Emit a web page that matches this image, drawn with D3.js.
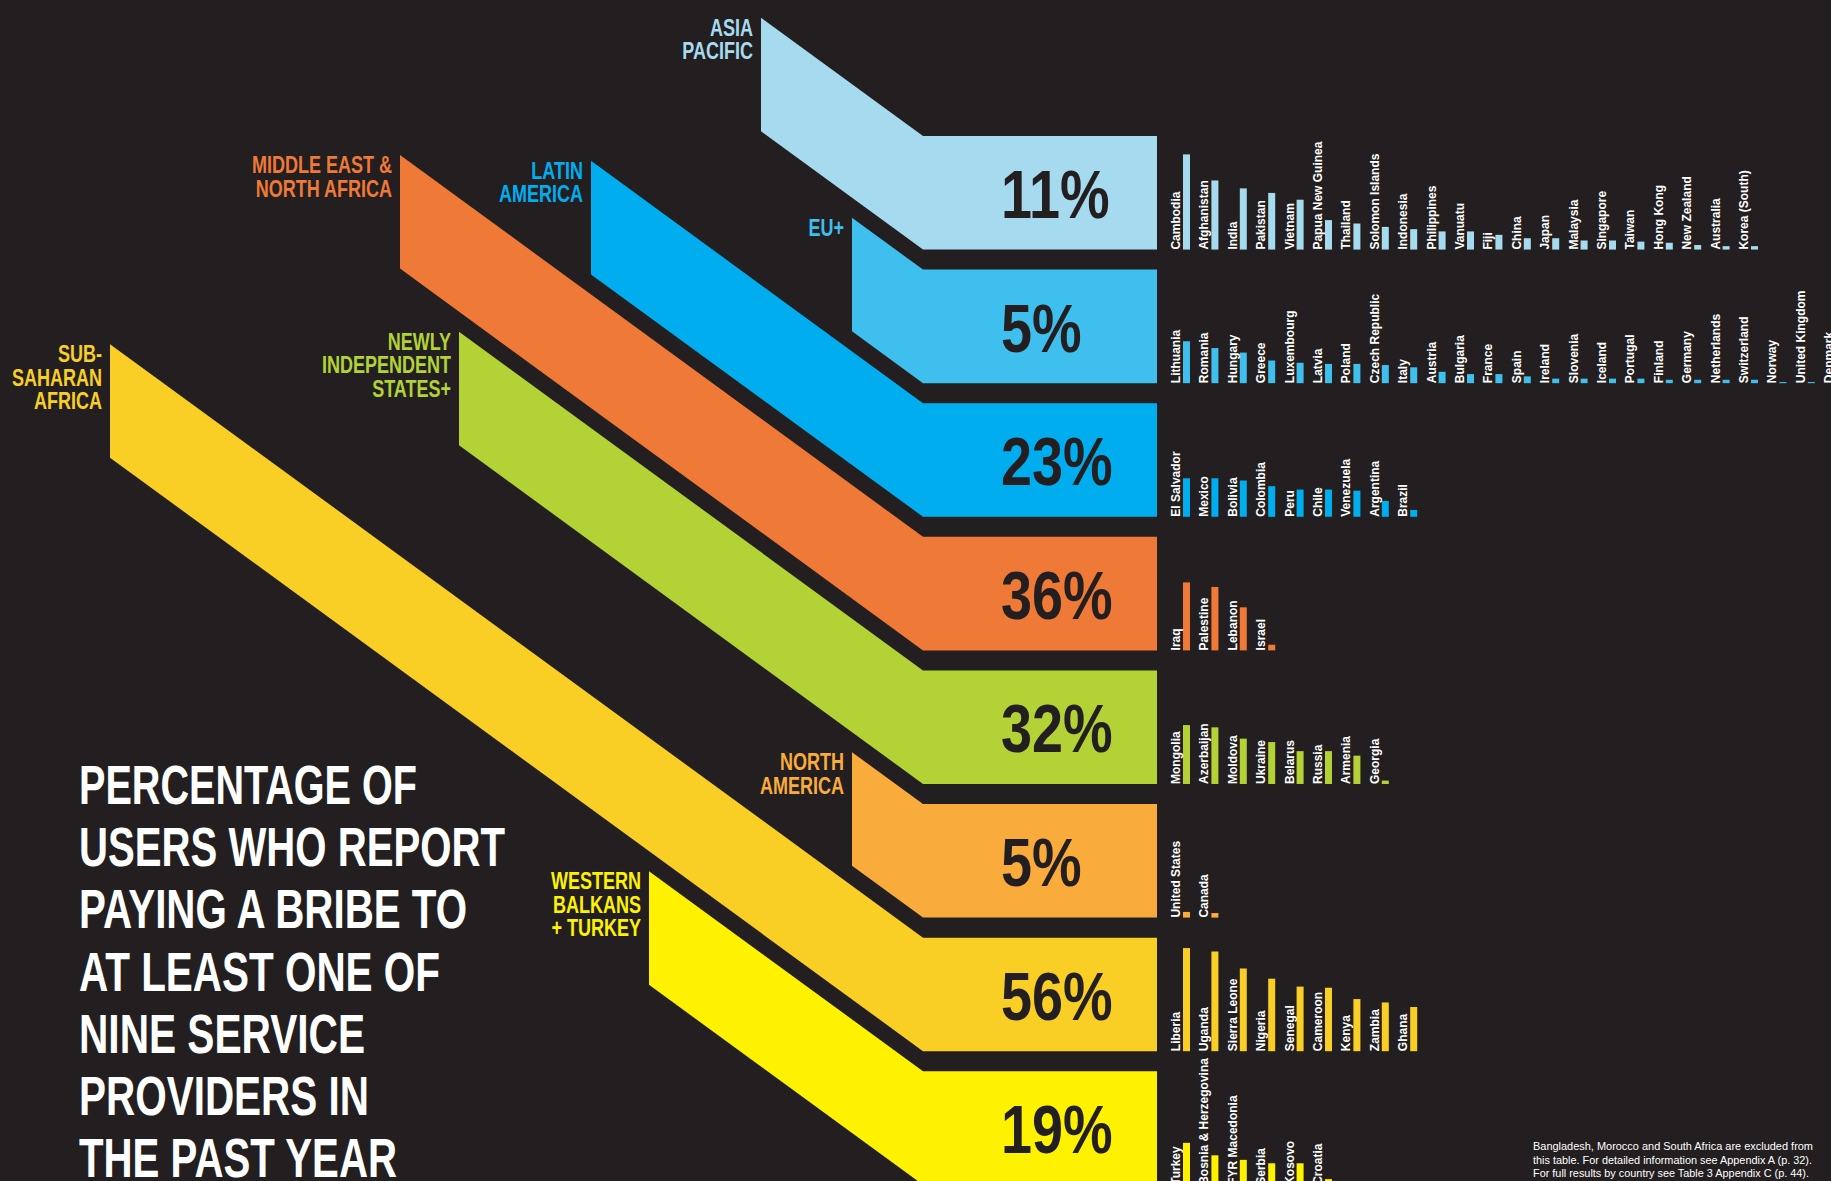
<!DOCTYPE html>
<html><head><meta charset="utf-8">
<script src="https://cdn.jsdelivr.net/npm/d3@7"></script>
<style>
html,body{margin:0;padding:0;background:#231f20;overflow:hidden}
svg{display:block}
text{font-family:"Liberation Sans",Arial,Helvetica,sans-serif;font-weight:bold}
</style></head><body>
<svg id="chart" width="1831" height="1181"></svg>
<script>
// ---------- DATA ----------
const regions = ["Asia Pacific","EU+","Latin America","Middle East & North Africa","Newly Independent States+","North America","Sub-Saharan Africa","Western Balkans + Turkey"];
const regionLabels = [["ASIA","PACIFIC"],["EU+"],["LATIN","AMERICA"],["MIDDLE EAST &","NORTH AFRICA"],["NEWLY","INDEPENDENT","STATES+"],["NORTH","AMERICA"],["SUB-","SAHARAN","AFRICA"],["WESTERN","BALKANS","+ TURKEY"]];
const regionValues = [11,5,23,36,32,5,56,19];

const asiaCountries = ["Cambodia","Afghanistan","India","Pakistan","Vietnam","Papua New Guinea","Thailand","Solomon Islands","Indonesia","Philippines","Vanuatu","Fiji","China","Japan","Malaysia","Singapore","Taiwan","Hong Kong","New Zealand","Australia","Korea (South)"];
const asiaValues = [84,61,54,50,44,26,23,20,18,16,16,13,10,10,8,8,7,6,4,3,3];
const euCountries = ["Lithuania","Romania","Hungary","Greece","Luxembourg","Latvia","Poland","Czech Republic","Italy","Austria","Bulgaria","France","Spain","Ireland","Slovenia","Iceland","Portugal","Finland","Germany","Netherlands","Switzerland","Norway","United Kingdom","Denmark"];
const euValues = [37,31,27,20,18,17,17,16,14,10,8,8,6,4,4,4,4,3,3,3,3,1,1,1];
const latamCountries = ["El Salvador","Mexico","Bolivia","Colombia","Peru","Chile","Venezuela","Argentina","Brazil"];
const latamValues = [34,34,32,27,24,24,23,14,6];
const menaCountries = ["Iraq","Palestine","Lebanon","Israel"];
const menaValues = [60,56,38,5];
const nisCountries = ["Mongolia","Azerbaijan","Moldova","Ukraine","Belarus","Russia","Armenia","Georgia"];
const nisValues = [52,50,40,37,29,29,25,3];
const naCountries = ["United States","Canada"];
const naValues = [5,4];
const ssaCountries = ["Liberia","Uganda","Sierra Leone","Nigeria","Senegal","Cameroon","Kenya","Zambia","Ghana"];
const ssaValues = [91,88,73,64,57,56,46,43,39];
const wbCountries = ["Turkey","Bosnia & Herzegovina","FYR Macedonia","Serbia","Kosovo","Croatia"];
const wbValues = [37,26,22,19,19,5];

const titleLines = ["PERCENTAGE OF","USERS WHO REPORT","PAYING A BRIBE TO","AT LEAST ONE OF","NINE SERVICE","PROVIDERS IN","THE PAST YEAR"];
const footnoteLines = ["Bangladesh, Morocco and South Africa are excluded from","this table. For detailed information see Appendix A (p. 32).","For full results by country see Table 3 Appendix C (p. 44)."];

// ---------- LAYOUT / STYLE ----------
const countryLists = [asiaCountries,euCountries,latamCountries,menaCountries,nisCountries,naCountries,ssaCountries,wbCountries];
const valueLists = [asiaValues,euValues,latamValues,menaValues,nisValues,naValues,ssaValues,wbValues];
const colors = ["#a6dbef","#3ebfed","#00adee","#ef7936","#b2d235","#f9ac3b","#f9cf26","#fef200"];
const startX = [761,852,591,400,459,852,110,649];
const titleWidths = [338,426,388,361,286,290,318];
const footWidths = [280,279,276];
const knee = 923, rightEdge = 1157, slope = 0.73;

const W = 1831, H = 1181;
const svg = d3.select("#chart");
svg.append("rect").attr("width",W).attr("height",H).attr("fill","#231f20");

function condense(sel, k){
  sel.each(function(){
    const w=this.getComputedTextLength();
    d3.select(this).attr("textLength",w*k).attr("lengthAdjust","spacingAndGlyphs");
  });
}

const y = d3.scaleBand().domain(regions).range([136, 1184.8]).paddingInner(0.15).paddingOuter(0);
const barX = d3.scaleLinear().domain([0,1]).range([1183,1211.4]);
const barH = d3.scaleLinear().domain([0,100]).range([0,113.3]);

const rows = regions.map((r,i)=>({
  region:r, label:regionLabels[i], value:regionValues[i], color:colors[i], x0:startX[i],
  countries:countryLists[i].map((c,j)=>({name:c, value:valueLists[i][j]}))
}));

const g = svg.selectAll("g.region").data(rows).join("g").attr("class","region");

// bands
g.append("path")
  .attr("fill",d=>d.color)
  .attr("d",d=>{
    const t=y(d.region), h=y.bandwidth(), dy=(knee-d.x0)*slope;
    return d3.line()([[d.x0,t-dy],[knee,t],[rightEdge,t],[rightEdge,t+h],[knee,t+h],[d.x0,t+h-dy]])+"Z";
  });

// percentage labels
const pct = g.append("text")
  .attr("x",1001)
  .attr("y",d=>y(d.region)+82)
  .attr("fill","#231f20")
  .style("font-size","68px")
  .text(d=>d.value+"%");
condense(pct,0.82);

// region labels
g.each(function(d){
  const t=y(d.region)-(knee-d.x0)*slope;
  const txt=d3.select(this).append("text")
    .attr("text-anchor","end")
    .attr("fill",d.color)
    .style("font-size","24px");
  d.label.forEach((l,k)=>{
    txt.append("tspan").attr("x",d.x0-8).attr("y",t+18+k*23.5).text(l);
  });
  condense(txt.selectAll("tspan"),0.75);
});

// country bars
g.each(function(d){
  const bottom=y(d.region)+y.bandwidth();
  const cg=d3.select(this).selectAll("g.c").data(d.countries).join("g").attr("class","c");
  cg.append("rect")
    .attr("x",(c,j)=>barX(j))
    .attr("width",7)
    .attr("y",c=>bottom-barH(c.value))
    .attr("height",c=>barH(c.value))
    .attr("fill",d.color);
  cg.append("text")
    .attr("transform",(c,j)=>`translate(${barX(j)-3},${bottom}) rotate(-90)`)
    .attr("fill","#ffffff")
    .style("font-size","12px")
    .text(c=>c.name);
});

// title
const title = svg.append("text").attr("fill","#ffffff").style("font-size","56px");
titleLines.forEach((l,i)=>{
  title.append("tspan").attr("x",79).attr("y",804+i*62.2)
    .attr("textLength",titleWidths[i]).attr("lengthAdjust","spacingAndGlyphs").text(l);
});

// footnote
const fn = svg.append("text").attr("fill","#ffffff").style("font-size","10.5px").style("font-weight","normal");
footnoteLines.forEach((l,i)=>{
  fn.append("tspan").attr("x",1533).attr("y",1150+i*13.5)
    .attr("textLength",footWidths[i]).attr("lengthAdjust","spacingAndGlyphs").text(l);
});
</script>
</body></html>
